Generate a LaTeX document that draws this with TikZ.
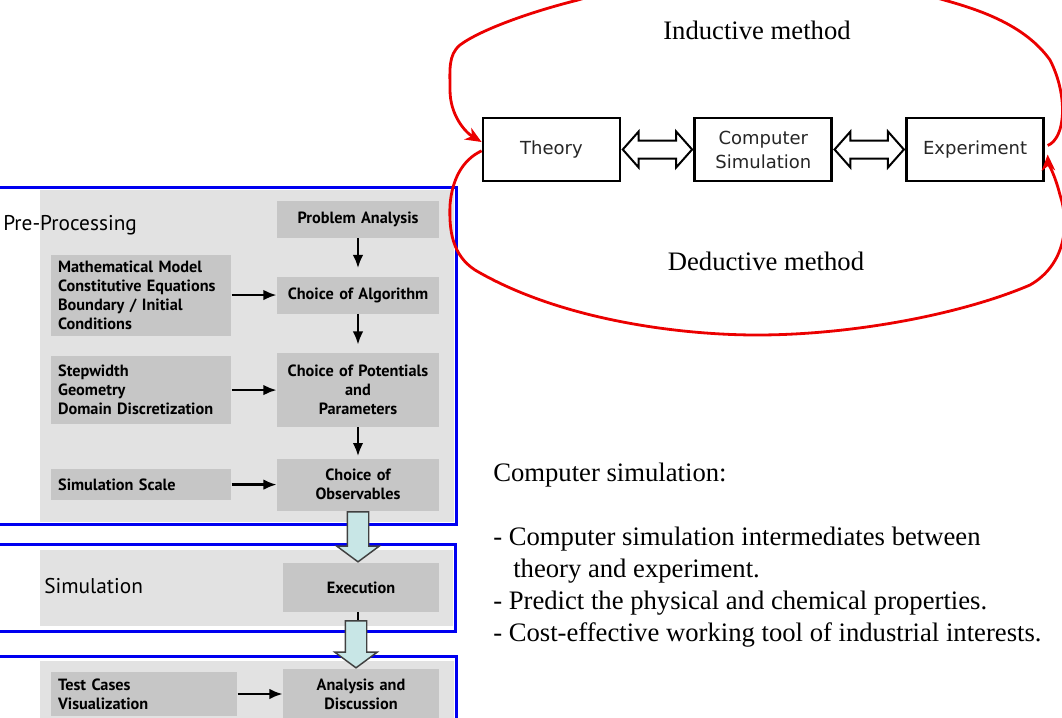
\documentclass[tikz,border=0pt]{standalone}
\usepackage{fontspec}
\setmainfont{Liberation Serif}
\newfontfamily\flowfont{PT Sans}
\newfontfamily\boxfont{DejaVu Sans}
\usepackage{xcolor}
\usepackage{tikz}
\usetikzlibrary{shapes,arrows,arrows.meta,positioning,calc}

\definecolor{panelgray}{RGB}{226,226,226}
\definecolor{stepgray}{RGB}{198,198,198}
\definecolor{flowcyan}{RGB}{200,230,230}
\definecolor{loopred}{RGB}{235,0,0}
\definecolor{frameblue}{RGB}{0,0,240}

\begin{document}
\begin{tikzpicture}[
                x=0.75pt, y=-0.75pt,
                node distance=33.75pt,
                stepbox/.style={rectangle, fill=stepgray, text width=111.5pt, inner xsep=5pt, inner ysep=0pt, align=center, font=\flowfont\bfseries\fontsize{12.2}{14.3}\selectfont},
                inputbox/.style={rectangle, fill=stepgray, text width=125pt, inner xsep=5pt, inner ysep=0pt, align=left, font=\flowfont\bfseries\fontsize{12.2}{14.3}\selectfont},
                idea/.style={rectangle, draw, line width=2.1pt, fill=white, minimum width=102.75pt, minimum height=47.25pt, align=center, text=black!85, font=\boxfont\fontsize{13.5}{18}\selectfont},
                twoway/.style={double arrow, draw, line width=1.5pt, fill=white, inner sep=0pt, inner ysep=6pt, minimum height=52pt, minimum width=25.5pt, double arrow head extend=6.75pt, double arrow tip angle=97},
                blockarrow/.style={single arrow, draw=black!75, line width=1.1pt, fill=flowcyan, inner sep=0pt, inner ysep=7.5pt, minimum width=30.75pt, single arrow head extend=7.9pt, single arrow tip angle=107, rotate=-90, anchor=tip},
                frame/.style={draw=frameblue, line width=2.25pt},
                flowarrow/.style={-{Latex[length=10pt,width=8pt]}, line width=2.1pt},
                method/.style={->, >={Stealth[length=12pt,width=10pt,inset=3.5pt]}, draw=loopred, line width=2.1pt},
                bigtext/.style={font=\fontsize{20}{24}\selectfont}
            ]
                \useasboundingbox (0,0) rectangle (1062,717);
                \clip (0,0) rectangle (1062,717);

                % Gray panels and blue frames of the three stages
                \fill[panelgray] (40,190) rectangle (454,522);
                \fill[panelgray] (40,550) rectangle (453,626);
                \fill[panelgray] (40,661) rectangle (454,730);
                \draw[frame] (-10,187) rectangle (456,524);
                \draw[frame] (-10,544) rectangle (455,631);
                \draw[frame] (-10,656) rectangle (456,740);

                \node[anchor=base west, inner sep=0pt, font=\flowfont\fontsize{16}{18}\selectfont] (prelabel) at (3,230) {Pre-Processing};
                \node[anchor=base west, inner sep=0pt, font=\flowfont\fontsize{16}{18}\selectfont] (simlabel) at (44,593) {Simulation};

                % Main column
                \node[stepbox, minimum height=27.75pt] (problem) at (358,219.5) {Problem Analysis};
                \node[stepbox, minimum height=27.75pt, below=28.5pt of problem] (algorithm) {Choice of Algorithm};
                \node[stepbox, minimum height=55.5pt, below=29.25pt of algorithm] (potentials) {Choice of Potentials\\and\\Parameters};
                \node[stepbox, minimum height=39pt, below=23.25pt of potentials] (observables) {Choice of\\Observables};
                \node[stepbox, text width=107pt, minimum height=36.75pt] (execution) at (361,587.5) {Execution};
                \node[stepbox, text width=107pt, minimum height=37.5pt] (analysis) at (361,694) {Analysis and\\Discussion};

                % Inputs on the left
                \node[inputbox, minimum height=60.75pt, left=of algorithm] (model) {Mathematical Model\\Constitutive Equations\\Boundary / Initial\\Conditions};
                \node[inputbox, minimum height=51pt, left=of potentials] (grid) {Stepwidth\\Geometry\\Domain Discretization};
                \node[inputbox, minimum height=23.25pt, left=of observables] (scale) {Simulation Scale};
                \node[inputbox, text width=129.5pt, minimum height=33pt, left=of analysis] (tests) {Test Cases\\Visualization};

                \draw[flowarrow, shorten >=6pt] (problem) -- (algorithm);
                \draw[flowarrow, shorten >=6pt] (algorithm) -- (potentials);
                \draw[flowarrow, shorten >=1.5pt] (potentials) -- (observables);
                \draw[flowarrow] (model) -- (algorithm);
                \draw[flowarrow] (grid) -- (potentials);
                \draw[flowarrow] (scale) -- (observables);
                \draw[flowarrow] (tests) -- (analysis);

                % Stage to stage
                \node[blockarrow, minimum height=37.5pt] (flow1) at ([xshift=-2.25pt]execution.north) {};
                \draw[line width=2.1pt] ([xshift=-2.25pt]execution.south) -- ++(0,10);
                \node[blockarrow, minimum height=35.25pt] (flow2) at ([xshift=-3.75pt]analysis.north) {};

                % Theory - simulation - experiment
                \node[idea] (theory) at (551.5,149.5) {Theory};
                \node[idea, right=54pt of theory] (simulation) {Computer\\Simulation};
                \node[idea, right=54pt of simulation] (experiment) {Experiment};
                \node[twoway] (ts) at ($(theory.east)!0.5!(simulation.west)$) {};
                \node[twoway] (se) at ($(simulation.east)!0.5!(experiment.west)$) {};

                \node[bigtext] (inductive) at (757,30) {Inductive method};
                \node[bigtext] (deductive) at (766,261) {Deductive method};

                % Inductive loop over the top
                \draw[method] ([shift={(2pt,3pt)}]experiment.east) .. controls (1066,138) and (1068,95) .. (1050,60)
                    .. controls (1025,25) and (980,10) .. (944,0)
                    .. controls (880,-20) and (640,-20) .. (578,0)
                    .. controls (530,12) and (480,30) .. (460,45)
                    .. controls (448,55) and (450,70) .. (450,90)
                    .. controls (450,115) and (465,132) .. ([yshift=5.6pt]theory.west);
                % Deductive loop under the bottom
                \draw[method] ([yshift=-1pt]theory.west) .. controls (462,160) and (452,180) .. (450,205)
                    .. controls (449,230) and (452,255) .. (475,270)
                    .. controls (560,320) and (680,335) .. (757,335)
                    .. controls (850,335) and (960,315) .. (1030,285)
                    .. controls (1065,265) and (1070,225) .. (1060,195)
                    .. controls (1055,175) and (1048,162) .. ([shift={(2pt,-3.75pt)}]experiment.east);

                % Notes
                \node[bigtext, anchor=north west, align=left, inner sep=0pt] (notes) at (493,463) {Computer simulation:\\[24pt]
                    - Computer simulation intermediates between\\
                    \hspace*{15pt}theory and experiment.\\
                    - Predict the physical and chemical properties.\\
                    - Cost-effective working tool of industrial interests.};
            \end{tikzpicture}
\end{document}
